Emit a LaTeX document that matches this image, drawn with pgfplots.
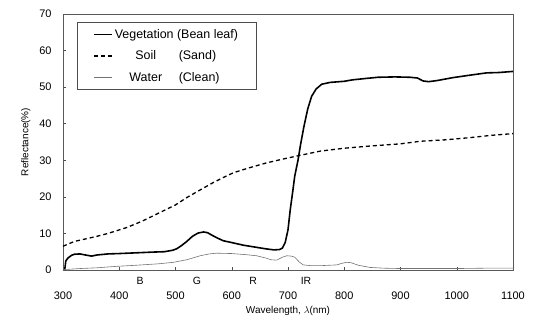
\documentclass[border=0pt]{standalone}
\usepackage{pgfplots}
\pgfplotsset{compat=1.18}
\usepackage{fontspec}
\setmainfont{Liberation Sans}
\begin{document}
\begin{tikzpicture}
\begin{axis}[
  scale only axis, width=450bp, height=256bp,
  xmin=300, xmax=1100, ymin=0, ymax=70,
  clip=false,
  xtick={300,400,...,1100}, ytick={0,10,...,70},
  /pgf/number format/assume math mode=true,
  /pgf/number format/set thousands separator={},
  tick label style={font=\fontsize{11}{13}\selectfont},
  xticklabel style={yshift=-18bp},
  yticklabel style={xshift=-8bp},
  label style={font=\fontsize{10}{12}\selectfont},
  xlabel={Wavelength, \(\lambda\)(nm)},
  ylabel={Reflectance(\%)},
  xlabel style={yshift=0bp},
  ylabel style={yshift=2bp},
  axis line style={black!65, line width=0.6pt},
  tick style={black!70, line width=0.5pt},
  tick align=inside, major tick length=3bp,
  xtick pos=bottom, ytick pos=left,
  legend style={at={(rel axis cs:0.031,0.969)}, anchor=north west, draw=black!70, line width=0.5pt,
    font=\fontsize{12.5}{14}\selectfont, row sep=7bp, inner xsep=16bp, inner ysep=5bp},
  legend cell align=left,
  legend image code/.code={\draw[#1] (0bp,0bp) -- (18bp,0bp);},
]
\addplot[black, line width=1.6pt] coordinates {
(303,0) (305,2.5) (309,3.3) (315,4.0) (320,4.3) (330,4.4) (340,4.1) (351,3.8) (360,4.1) (380,4.4)
(400,4.5) (430,4.7) (460,4.9) (480,5.0) (495,5.4) (502,5.8) (510,6.6) (520,7.8) (530,9.2) (540,10.1)
(550,10.4) (557,10.2) (565,9.5) (575,8.7) (585,8.0) (600,7.5) (620,6.8) (640,6.3) (660,5.8) (675,5.5)
(685,5.6) (690,6.0) (695,7.5) (700,11) (704,16.5) (708,21) (712,25.7) (718,30.2) (722,34) (728,39)
(735,44) (742,47.5) (750,49.5) (760,50.8) (775,51.3) (800,51.6) (815,52.0) (840,52.4) (860,52.7) (890,52.8)
(917,52.7) (930,52.5) (940,51.7) (950,51.5) (965,51.8) (993,52.6) (1020,53.2) (1053,53.9) (1075,54.0) (1100,54.3)
};
\addlegendentry{Vegetation (Bean leaf)}
\addplot[black, line width=1.3pt, dash pattern=on 4bp off 3bp] coordinates {
(300,6.5) (320,7.8) (340,8.5) (360,9.2) (380,10.0) (413,11.6) (440,13.3) (472,15.7) (500,17.8) (520,19.8)
(545,22.0) (567,23.9) (585,25.3) (603,26.6) (630,27.9) (662,29.3) (690,30.3) (720,31.3) (757,32.5) (800,33.3)
(846,33.9) (900,34.5) (935,35.2) (980,35.6) (1024,36.2) (1060,36.8) (1100,37.3)
};
\addlegendentry{\makebox[62bp][c]{Soil}\hspace{2bp}(Sand)}
\addplot[black!55, line width=0.6pt] coordinates {
(300,0.1) (330,0.4) (360,0.6) (395,1.0) (430,1.3) (470,1.7) (496,2.1) (520,2.8) (544,3.9) (560,4.4)
(573,4.6) (600,4.5) (625,4.2) (644,3.9) (660,3.3) (670,2.8) (680,2.7) (690,3.5) (698,3.9) (706,3.8)
(712,3.5) (720,2.2) (727,1.4) (740,1.2) (760,1.2) (787,1.4) (795,1.8) (804,2.1) (812,2.0) (825,1.3)
(846,0.7) (870,0.5) (900,0.4) (950,0.4) (1000,0.4) (1050,0.5) (1100,0.5)
};
\addlegendentry{\makebox[62bp][c]{Water}\hspace{2bp}(Clean)}
\node[font=\fontsize{10.5}{12}\selectfont] at (axis cs:437,0) [yshift=-11bp] {B};
\node[font=\fontsize{10.5}{12}\selectfont] at (axis cs:538,0) [yshift=-11bp] {G};
\node[font=\fontsize{10.5}{12}\selectfont] at (axis cs:638,0) [yshift=-11bp] {R};
\node[font=\fontsize{10.5}{12}\selectfont] at (axis cs:732,0) [yshift=-11bp] {IR};
\coordinate (bbl) at (rel axis cs:-0.14,-0.1914);
\coordinate (btr) at (rel axis cs:1.0511,1.0547);
\end{axis}
\pgfresetboundingbox
\path[use as bounding box] (bbl) rectangle (btr);
\end{tikzpicture}
\end{document}
